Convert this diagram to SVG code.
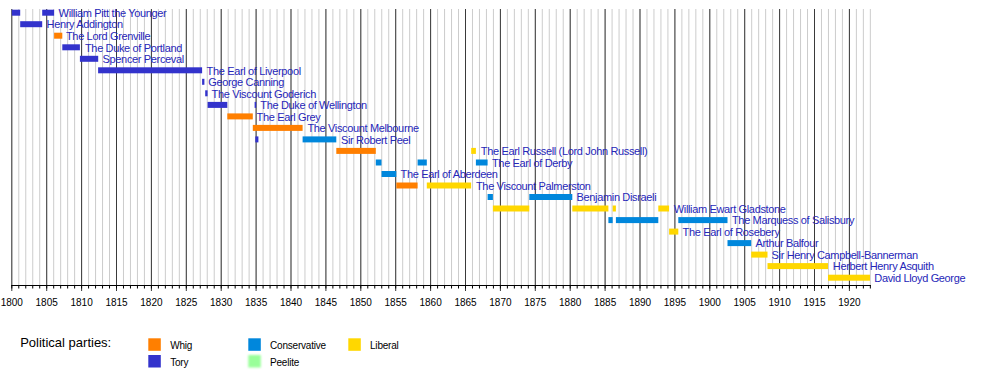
<svg xmlns="http://www.w3.org/2000/svg" width="1000" height="386" viewBox="0 0 1000 386">
<style>
.lbl{font-family:"Liberation Sans",Arial,sans-serif;font-size:11px;letter-spacing:-0.35px;fill:#2626b8}
.yr{font-family:"Liberation Sans",Arial,sans-serif;font-size:10px;fill:#000;text-anchor:middle}
.leg{font-family:"Liberation Sans",Arial,sans-serif;font-size:10px;letter-spacing:-0.2px;fill:#000}
.W{fill:#ff7f00}.T{fill:#3333cc}.C{fill:#0087dc}.L{fill:#ffd700}.P{fill:#99ff99}
</style>
<defs><filter id="blur" x="-30%" y="-30%" width="160%" height="160%"><feGaussianBlur stdDeviation="0.9"/></filter></defs>
<rect width="1000" height="386" fill="#fff"/>
<g id="grid">
<line x1="11.3" y1="147" x2="871" y2="147" stroke="#cccccc" stroke-width="276" stroke-dasharray="1 5.98"/>
<line x1="11.3" y1="150" x2="851" y2="150" stroke="#3a3a3a" stroke-width="282" stroke-dasharray="1 33.9"/>
<line x1="11.3" y1="286.75" x2="871" y2="286.75" stroke="#000" stroke-width="3.5" stroke-dasharray="1 5.98"/>
<line x1="11.3" y1="285.5" x2="870.8" y2="285.5" stroke="#000" stroke-width="1"/>
</g>
<g id="axis-labels">
<text class="yr" x="11.8" y="305.5">1800</text><text class="yr" x="46.7" y="305.5">1805</text><text class="yr" x="81.6" y="305.5">1810</text><text class="yr" x="116.5" y="305.5">1815</text><text class="yr" x="151.4" y="305.5">1820</text><text class="yr" x="186.3" y="305.5">1825</text><text class="yr" x="221.2" y="305.5">1830</text><text class="yr" x="256.1" y="305.5">1835</text><text class="yr" x="291" y="305.5">1840</text><text class="yr" x="325.9" y="305.5">1845</text><text class="yr" x="360.8" y="305.5">1850</text><text class="yr" x="395.7" y="305.5">1855</text><text class="yr" x="430.6" y="305.5">1860</text><text class="yr" x="465.5" y="305.5">1865</text><text class="yr" x="500.4" y="305.5">1870</text><text class="yr" x="535.3" y="305.5">1875</text><text class="yr" x="570.2" y="305.5">1880</text><text class="yr" x="605.1" y="305.5">1885</text><text class="yr" x="640" y="305.5">1890</text><text class="yr" x="674.9" y="305.5">1895</text><text class="yr" x="709.8" y="305.5">1900</text><text class="yr" x="744.7" y="305.5">1905</text><text class="yr" x="779.6" y="305.5">1910</text><text class="yr" x="814.5" y="305.5">1915</text><text class="yr" x="849.4" y="305.5">1920</text>
</g>
<g id="pitt"><rect class="T" x="11.8" y="9.7" width="8.4" height="6"/><rect class="T" x="42.2" y="9.7" width="11.9" height="6"/><text class="lbl" x="58.6" y="16.9">William Pitt the Younger</text></g>
<g id="addington"><rect class="T" x="20.2" y="21.2" width="22" height="6"/><text class="lbl" x="46.6" y="28.4">Henry Addington</text></g>
<g id="grenville"><rect class="W" x="54.1" y="32.7" width="8.2" height="6"/><text class="lbl" x="66" y="39.9">The Lord Grenville</text></g>
<g id="portland"><rect class="T" x="62.3" y="44.3" width="17.6" height="6"/><text class="lbl" x="85" y="51.5">The Duke of Portland</text></g>
<g id="perceval"><rect class="T" x="79.9" y="55.8" width="18.3" height="6"/><text class="lbl" x="102.6" y="63">Spencer Perceval</text></g>
<g id="liverpool"><rect class="T" x="98.1" y="67.3" width="104" height="6"/><text class="lbl" x="206.6" y="74.5">The Earl of Liverpool</text></g>
<g id="canning"><rect class="T" x="202.1" y="78.8" width="2.3" height="6"/><text class="lbl" x="208.3" y="86">George Canning</text></g>
<g id="goderich"><rect class="T" x="205.2" y="90.3" width="2.4" height="6"/><text class="lbl" x="211.6" y="97.5">The Viscount Goderich</text></g>
<g id="wellington"><rect class="T" x="207.6" y="101.9" width="19.7" height="6"/><rect class="T" x="254.6" y="101.9" width="1.6" height="6"/><text class="lbl" x="260.3" y="109.1">The Duke of Wellington</text></g>
<g id="grey"><rect class="W" x="227.3" y="113.4" width="25.5" height="6"/><text class="lbl" x="256.6" y="120.6">The Earl Grey</text></g>
<g id="melbourne"><rect class="W" x="252.8" y="124.9" width="49.8" height="6"/><text class="lbl" x="307.4" y="132.1">The Viscount Melbourne</text></g>
<g id="peel"><rect class="T" x="255.3" y="136.4" width="3.1" height="6"/><rect class="C" x="302.6" y="136.4" width="33.7" height="6"/><text class="lbl" x="341" y="143.6">Sir Robert Peel</text></g>
<g id="russell"><rect class="W" x="336.3" y="147.9" width="39.5" height="6"/><rect class="L" x="471.2" y="147.9" width="4.7" height="6"/><text class="lbl" x="480.8" y="155.1">The Earl Russell (Lord John Russell)</text></g>
<g id="derby"><rect class="C" x="375.8" y="159.5" width="5.7" height="6"/><rect class="C" x="417.6" y="159.5" width="9.2" height="6"/><rect class="C" x="475.9" y="159.5" width="11.7" height="6"/><text class="lbl" x="492" y="166.7">The Earl of Derby</text></g>
<g id="aberdeen"><rect class="C" x="381.5" y="171" width="14.8" height="6"/><text class="lbl" x="400.6" y="178.2">The Earl of Aberdeen</text></g>
<g id="palmerston"><rect class="W" x="396.3" y="182.5" width="21.3" height="6"/><rect class="L" x="426.8" y="182.5" width="44.3" height="6"/><text class="lbl" x="476" y="189.7">The Viscount Palmerston</text></g>
<g id="disraeli"><rect class="C" x="487.6" y="194" width="5.3" height="6"/><rect class="C" x="529.3" y="194" width="43" height="6"/><text class="lbl" x="576.6" y="201.2">Benjamin Disraeli</text></g>
<g id="gladstone"><rect class="L" x="492.9" y="205.5" width="36.4" height="6"/><rect class="L" x="572.3" y="205.5" width="36.1" height="6"/><rect class="L" x="612.7" y="205.5" width="3.2" height="6"/><rect class="L" x="658.3" y="205.5" width="10.8" height="6"/><text class="lbl" x="673.8" y="212.7">William Ewart Gladstone</text></g>
<g id="salisbury"><rect class="C" x="608.4" y="217.1" width="4.3" height="6"/><rect class="C" x="615.9" y="217.1" width="42.4" height="6"/><rect class="C" x="678.3" y="217.1" width="49.2" height="6"/><text class="lbl" x="732" y="224.3">The Marquess of Salisbury</text></g>
<g id="rosebery"><rect class="L" x="669.1" y="228.6" width="9.2" height="6"/><text class="lbl" x="682.6" y="235.8">The Earl of Rosebery</text></g>
<g id="balfour"><rect class="C" x="727.5" y="240.1" width="23.7" height="6"/><text class="lbl" x="755.4" y="247.3">Arthur Balfour</text></g>
<g id="campbell-bannerman"><rect class="L" x="751.2" y="251.6" width="16.3" height="6"/><text class="lbl" x="771.6" y="258.8">Sir Henry Campbell-Bannerman</text></g>
<g id="asquith"><rect class="L" x="767.5" y="263.1" width="60.5" height="6"/><text class="lbl" x="832.8" y="270.3">Herbert Henry Asquith</text></g>
<g id="lloyd-george"><rect class="L" x="828" y="274.7" width="42" height="6"/><text class="lbl" x="874.3" y="281.9">David Lloyd George</text></g>
<g id="legend">
<text x="20.2" y="347.3" style="font-family:'Liberation Sans',Arial,sans-serif;font-size:13px;fill:#000">Political parties:</text>
<rect class="W" x="148.3" y="338.3" width="12.5" height="12.5"/><text class="leg" x="170.2" y="349.3">Whig</text>
<rect class="T" x="148.3" y="355" width="12.5" height="12.5"/><text class="leg" x="170.2" y="366.3">Tory</text>
<rect class="C" x="248.3" y="338.3" width="12.5" height="12.5"/><text class="leg" x="270" y="349.3">Conservative</text>
<rect class="P" x="248.3" y="355" width="12.5" height="12.5" filter="url(#blur)"/><text class="leg" x="270" y="366.3">Peelite</text>
<rect class="L" x="348.3" y="338.3" width="12.5" height="12.5"/><text class="leg" x="370" y="349.3">Liberal</text>
</g>
</svg>
